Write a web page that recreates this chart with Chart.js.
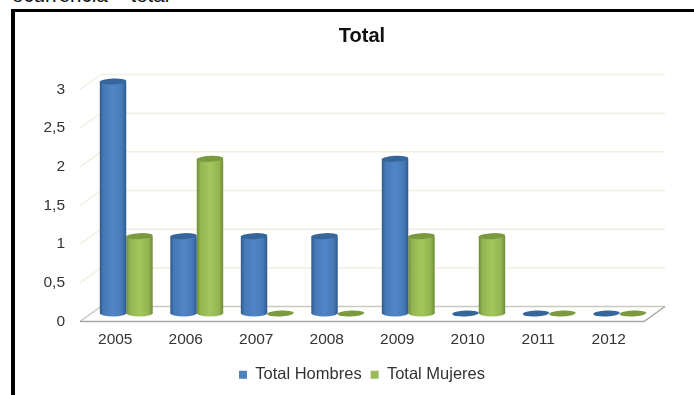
<!DOCTYPE html>
<html>
<head>
<meta charset="utf-8">
<script src="https://cdn.jsdelivr.net/npm/chart.js@4"></script>
<style>
  html, body { margin: 0; padding: 0; background: #fff; overflow: hidden; }
  #caption { position: absolute; left: 12px; top: -17px; font: 20.5px/24px "Liberation Sans", Arial, sans-serif; color: #111; white-space: nowrap; }
  #frame { position: absolute; left: 11px; top: 9px; width: 700px; height: 400px; border-left: 4px solid #000; border-top: 3px solid #000; }
  #wrap { position: absolute; left: 0; top: 0; width: 694px; height: 395px; }
</style>
</head>
<body>
<div id="caption">ocurrencia – total</div>
<div id="frame"></div>
<div id="wrap"><canvas id="myChart" width="694" height="395"></canvas></div>
<script>
const categories = ["2005", "2006", "2007", "2008", "2009", "2010", "2011", "2012"];
const hombres = [3, 1, 1, 1, 2, 0, 0, 0];
const mujeres = [1, 2, 0, 0, 1, 1, 0, 0];

const font = "'Liberation Sans', Arial, sans-serif";
const depth = { x: 21, y: -15 };      // back wall offset
const barShift = { x: 11, y: -8 };    // bars stand in the middle of the floor
const capRy = 3;
const tilt = -0.05;
const barFraction = 0.75;

const blue = { dark: "#2f5a8c", mid: "#4679b6", light: "#5086c8", cap: "#36659b" };
const green = { dark: "#6f8c38", mid: "#93b552", light: "#a3c65c", cap: "#7b9a3e" };

function cylinderFill(colors) {
  return function (c) {
    let x = c.chart.scales.x;
    if (!x) return colors.mid;
    let slot = x.getPixelForValue(1) - x.getPixelForValue(0);
    let w = slot * barFraction / 2;
    let left = x.getPixelForValue(c.dataIndex) + (c.datasetIndex - 1) * w;
    let g = c.chart.ctx.createLinearGradient(left, 0, left + w, 0);
    g.addColorStop(0, colors.dark);
    g.addColorStop(0.14, colors.mid);
    g.addColorStop(0.5, colors.light);
    g.addColorStop(0.84, colors.mid);
    g.addColorStop(1, colors.dark);
    return g;
  };
}

const wallPlugin = {
  id: "wall",
  beforeDatasetsDraw(chart) {
    let { ctx, chartArea: a, scales: { y } } = chart;
    ctx.save();
    y.ticks.forEach((t) => {
      let py = y.getPixelForValue(t.value);
      ctx.beginPath();
      ctx.moveTo(a.left, py);
      ctx.lineTo(a.left + depth.x, py + depth.y);
      ctx.lineTo(a.right + depth.x, py + depth.y);
      ctx.strokeStyle = t.value === 0 ? "#c9c9bf" : "#efefe2";
      ctx.lineWidth = 1.5;
      ctx.stroke();
    });
    // floor edge
    ctx.beginPath();
    ctx.moveTo(a.left, a.bottom);
    ctx.lineTo(a.right, a.bottom);
    ctx.lineTo(a.right + depth.x, a.bottom + depth.y);
    ctx.strokeStyle = "#a6a6a6";
    ctx.lineWidth = 1.5;
    ctx.stroke();
    ctx.restore();
    // bars are shifted until afterDatasetsDraw
    ctx.save();
    ctx.translate(barShift.x, barShift.y);
  },
  afterDatasetDraw(chart, args) {
    let ctx = chart.ctx;
    let colors = args.index === 0 ? blue : green;
    args.meta.data.forEach((bar) => {
      let rx = bar.width / 2;
      if (bar.base - bar.y > 0.5) {
        ctx.beginPath();
        ctx.ellipse(bar.x, bar.base - 0.5, rx, capRy + 0.5, 0, 0, Math.PI);
        ctx.fillStyle = bar.options.backgroundColor;
        ctx.fill();
      }
      ctx.beginPath();
      ctx.ellipse(bar.x, bar.y, rx, capRy, tilt, 0, Math.PI * 2);
      ctx.fillStyle = colors.cap;
      ctx.fill();
    });
  },
  afterDatasetsDraw(chart) {
    chart.ctx.restore();
  },
};

const ctx = document.getElementById("myChart");
const myChart = new Chart(ctx, {
  type: "bar",
  plugins: [wallPlugin],
  data: {
    labels: categories,
    datasets: [
      { label: "Total Hombres", data: hombres, clip: false, backgroundColor: cylinderFill(blue) },
      { label: "Total Mujeres", data: mujeres, clip: false, backgroundColor: cylinderFill(green) },
    ],
  },
  options: {
    responsive: false,
    animation: false,
    categoryPercentage: barFraction,
    barPercentage: 1,
    layout: { padding: { left: 40, right: 50, top: 0, bottom: 2 } },
    scales: {
      x: {
        grid: { display: false },
        border: { display: false },
        ticks: { color: "#333", padding: 1, maxRotation: 0, font: { family: font, size: 15.5 } },
        afterFit(s) { s.height = 36; },
      },
      y: {
        min: 0,
        max: 3,
        grid: { display: false, drawTicks: false },
        border: { display: false },
        ticks: {
          stepSize: 0.5,
          padding: 15,
          color: "#333",
          font: { family: font, size: 15.5 },
          callback: (v) => String(v).replace(".", ","),
        },
        afterFit(s) { s.width = 40; },
      },
    },
    plugins: {
      title: {
        display: true,
        text: "Total",
        fullSize: false,
        color: "#111",
        font: { family: font, size: 20, weight: "bold" },
        padding: { top: 24, bottom: 41.5 },
      },
      legend: {
        position: "bottom",
        fullSize: false,
        labels: {
          boxWidth: 8,
          boxHeight: 8,
          padding: 9,
          color: "#333",
          font: { family: font, size: 16.5 },
          generateLabels(chart) {
            return [blue, green].map((c, i) => ({
              text: chart.data.datasets[i].label,
              fillStyle: i === 0 ? "#4f81bd" : "#9bbb59",
              strokeStyle: "transparent",
              lineWidth: 0,
              datasetIndex: i,
              fontColor: "#333",
            }));
          },
        },
      },
      tooltip: { enabled: false },
    },
  },
});
</script>
</body>
</html>
